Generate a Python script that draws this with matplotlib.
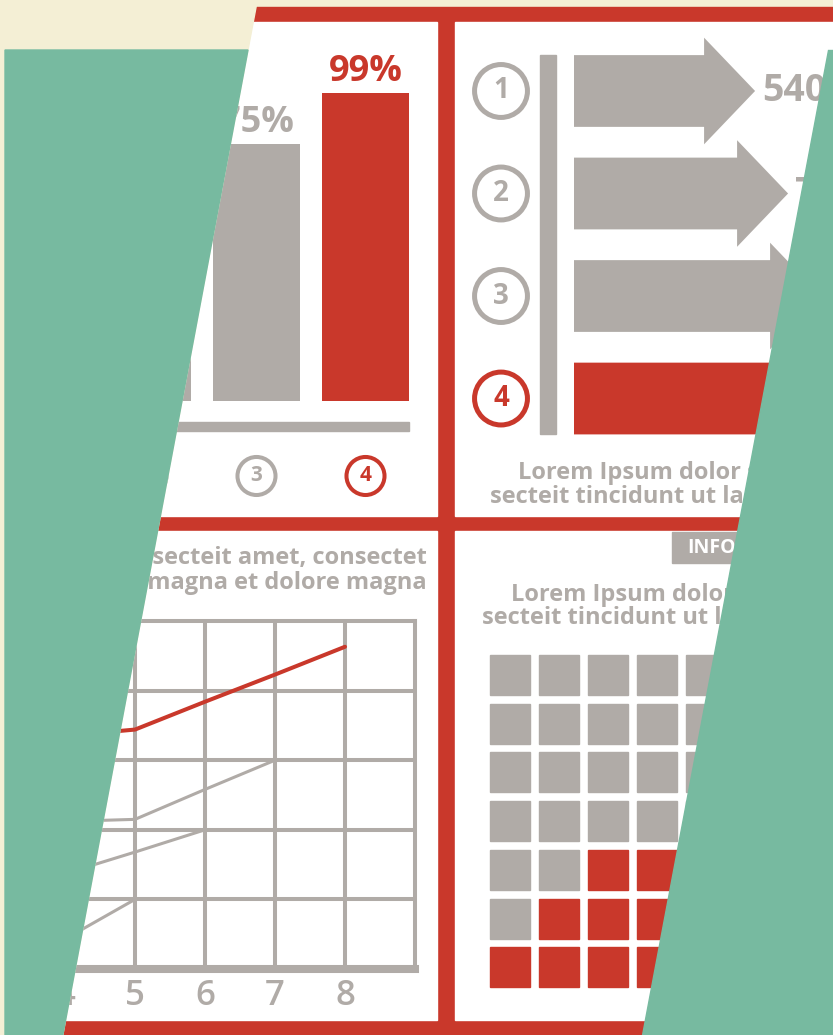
import matplotlib
matplotlib.use("Agg")
import matplotlib.pyplot as plt
import matplotlib.transforms as mtransforms
from matplotlib.patches import Rectangle, Polygon

W, H = 833, 1035
RED = "#C9382B"
GRAY = "#B0ABA7"
TEAL = "#77BAA0"
CREAM = "#F4EFD5"

plt.rcParams['font.family'] = ['Open Sans', 'DejaVu Sans']

# --- data ---
bar_cats = [1, 2, 3, 4]
bar_vals = [25, 50, 75, 99]
bar_floor = -46          # bars in the picture start below zero

arrow_rows = [1, 2, 3, 4]
arrow_vals = [540, 700, 860, 1020]
arrow_floor = -338

line_x = [4, 5, 6, 7, 8]
line_red = [3.35, 3.44, 3.84, 4.23, 4.63]
line_a = [2.12, 2.15, 2.58, 3.0]
line_b = [1.37, 1.68, 2.0]
line_c = [0.43, 1.0]

waffle_cols = 7
waffle_red = [0, 0, 0, 0, 5, 6, 7]   # red squares per row (from the right)

fig = plt.figure(figsize=(W / 100, H / 100), dpi=100)


def px_axes(x0, y0, x1, y1, **kw):
    return fig.add_axes([x0 / W, 1 - y1 / H, (x1 - x0) / W, (y1 - y0) / H], **kw)


# background, red frame and white panels
bg = fig.add_axes([0, 0, 1, 1])
bg.set_xlim(0, W)
bg.set_ylim(H, 0)
bg.axis('off')
bg.add_patch(Rectangle((0, 0), W, H, color=CREAM))
bg.add_patch(Rectangle((0, 7), 1000, 1100, color=RED))
for x0, y0, x1, y1 in [(0, 22, 437, 516), (455, 22, 950, 516),
                       (0, 531, 437, 1020), (455, 531, 950, 1020)]:
    bg.add_patch(Rectangle((x0, y0), x1 - x0, y1 - y0, color='white'))
bg.add_patch(Rectangle((0, 422), 409, 9, color=GRAY))
bg.add_patch(Rectangle((540, 55), 16, 379, color=GRAY))
bg.add_patch(Rectangle((672, 532), 250, 31, color=GRAY))
bg.text(687, 548, "INFOGRAPHIC", color='white', fontsize=14, fontweight='bold',
        ha='left', va='center')

txt = dict(color=GRAY, fontsize=17, fontweight='bold', va='center')
bg.text(518, 473, "Lorem Ipsum dolor sit amet, con-", ha='left', **txt)
bg.text(490, 497, "secteit tincidunt ut laoreet dolore", ha='left', **txt)
bg.text(427, 558, "Lorem Ipsum dolor sit amet, consecteit amet, consectet", ha='right', **txt)
bg.text(427, 583, "tincidunt ut laoreet magna et dolore magna", ha='right', **txt)
bg.text(511, 595, "Lorem Ipsum dolor sit amet, con-", ha='left', **txt)
bg.text(482, 618, "secteit tincidunt ut laoreet dolore", ha='left', **txt)

# top-left: vertical bars
ax1 = px_axes(0, 22, 437, 516)
ax1.axis('off')
ax1.set_xlim((0 - 38.5) / 109 + 1, (437 - 38.5) / 109 + 1)
ax1.set_ylim(-100, 132.4)
bar_colors = [GRAY, GRAY, GRAY, RED]
ax1.bar(bar_cats, [v - bar_floor for v in bar_vals], bottom=bar_floor,
        width=0.8, color=bar_colors)
for k, v, c in zip(bar_cats, bar_vals, bar_colors):
    ax1.annotate(f"{v}%", (k, v), xytext=(0, 2), textcoords='offset points',
                 ha='center', va='bottom', fontsize=26, fontweight='bold', color=c)
ax1.scatter(bar_cats, [0.081] * 4, transform=ax1.get_xaxis_transform(), s=750,
            facecolor='white', edgecolor=bar_colors, linewidths=2.9, zorder=3)
for k, c in zip(bar_cats, bar_colors):
    ax1.text(k, 0.081, str(k), transform=ax1.get_xaxis_transform(), ha='center',
             va='center', fontsize=15, fontweight='bold', color=c, zorder=4)

# top-right: arrows
scale = 0.20625  # px per unit
ax2 = px_axes(455, 22, 833, 516)
ax2.axis('off')
ax2.set_xlim(arrow_floor - (574 - 455) / scale, arrow_floor + (833 - 574) / scale)
ax2.set_ylim(5.146, 0.327)
arrow_colors = [GRAY, GRAY, GRAY, RED]
for r, v, c in zip(arrow_rows, arrow_vals, arrow_colors):
    ax2.arrow(arrow_floor, r, v - arrow_floor, 0, width=0.70, head_width=1.04,
              head_length=51 / scale, length_includes_head=True, color=c, lw=0)
    ax2.annotate(str(v), (v, r), xytext=(5, 0), textcoords='offset points',
                 ha='left', va='center', fontsize=27, fontweight='bold', color=GRAY)
tr = mtransforms.blended_transform_factory(ax2.transAxes, ax2.transData)
ax2.scatter([0.1217] * 4, arrow_rows, transform=tr, s=1450, facecolor='white',
            edgecolor=arrow_colors, linewidths=3.6, zorder=3)
for r, c in zip(arrow_rows, arrow_colors):
    ax2.text(0.1217, r, str(r), transform=tr, ha='center', va='center',
             fontsize=20, fontweight='bold', color=c, zorder=4)

# bottom-left: line chart on a grid
ax3 = px_axes(0, 621, 415, 969)
ax3.set_xlim(9 - 415 / 70, 9)
ax3.set_ylim(0, 5)
ax3.set_xticks(line_x)
ax3.set_yticks([1, 2, 3, 4])
ax3.set_yticklabels([])
ax3.grid(color=GRAY, lw=2.9)
ax3.set_axisbelow(True)
for s in ax3.spines.values():
    s.set_color(GRAY)
    s.set_linewidth(2.9)
ax3.spines['bottom'].set_linewidth(5.8)
ax3.tick_params(length=0, labelsize=25, labelcolor=GRAY, pad=7)
for lab in ax3.get_xticklabels():
    lab.set_fontweight('semibold')
ax3.plot(line_x, line_red, color=RED, lw=2.9, solid_capstyle='round')
ax3.plot(line_x[:len(line_a)], line_a, color=GRAY, lw=2.2)
ax3.plot(line_x[:len(line_b)], line_b, color=GRAY, lw=2.2)
ax3.plot(line_x[:len(line_c)], line_c, color=GRAY, lw=2.2)

# bottom-right: waffle squares
ax4 = px_axes(455, 531, 833, 1020)
ax4.axis('off')
ax4.set_xlim(-35 / 49, (833 - 490) / 49)
ax4.set_ylim((1020 - 655) / 48.7, (531 - 655) / 48.7)
for r, n_red in enumerate(waffle_red):
    for c in range(waffle_cols):
        col = RED if c >= waffle_cols - n_red else GRAY
        ax4.add_patch(Rectangle((c, r), 40 / 49, 40 / 48.7, color=col))

# overlay shapes
ov = fig.add_axes([0, 0, 1, 1], zorder=10)
ov.set_xlim(0, W)
ov.set_ylim(H, 0)
ov.axis('off')
ov.patch.set_alpha(0)
ov.add_patch(Polygon([(0, 0), (257.4, 0), (62.8, H), (0, H)], color=CREAM))
ov.add_patch(Polygon([(5, 50), (248, 50), (62.8, H), (5, H)], color=TEAL))
ov.add_patch(Polygon([(828, 50), (W + 5, 50), (W + 5, H), (642, H)], color=TEAL))

fig.savefig('out.png', dpi=100)
